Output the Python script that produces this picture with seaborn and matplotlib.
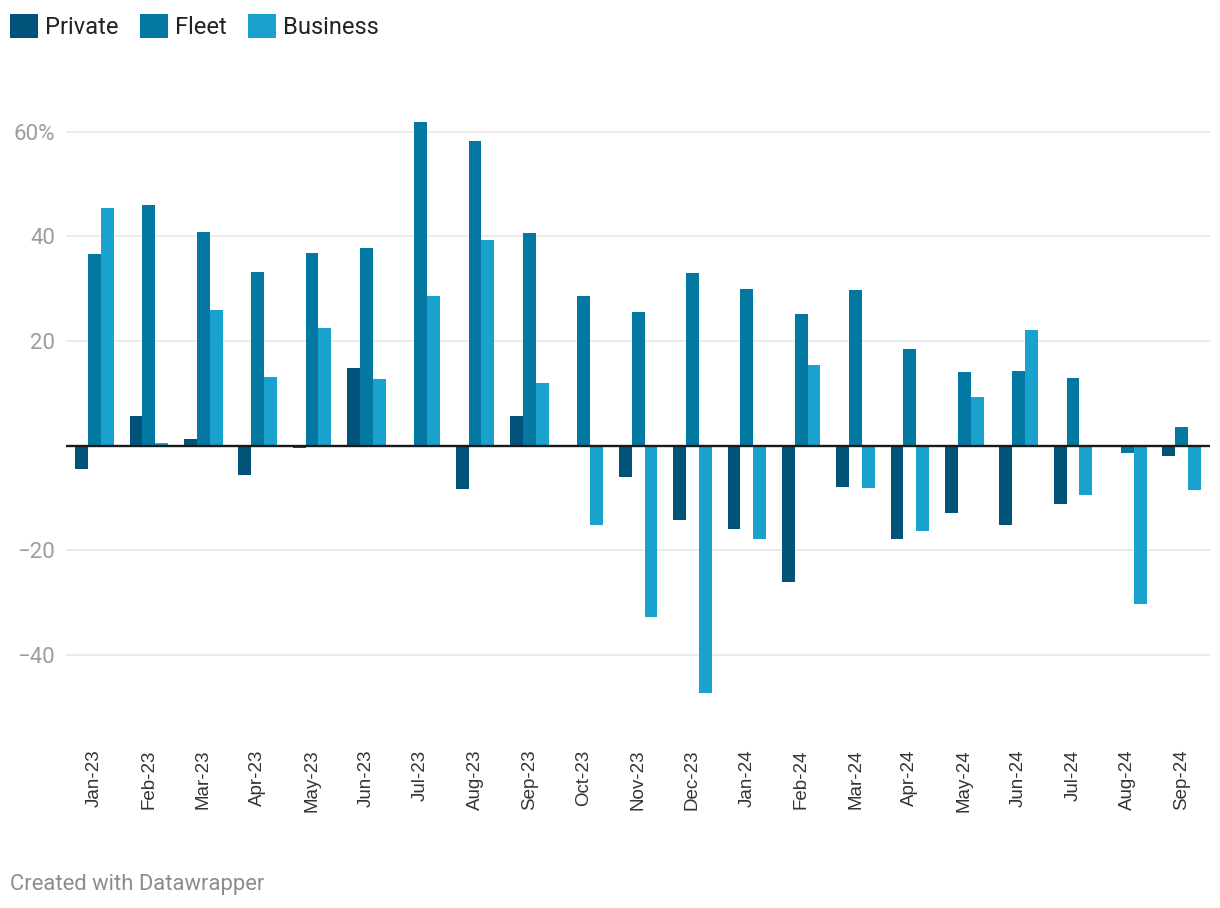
import numpy as np
import pandas as pd
import seaborn as sns
import matplotlib
matplotlib.use("Agg")
from matplotlib import pyplot as plt
from matplotlib.patches import Patch

months = ["Jan-23", "Feb-23", "Mar-23", "Apr-23", "May-23", "Jun-23", "Jul-23",
          "Aug-23", "Sep-23", "Oct-23", "Nov-23", "Dec-23", "Jan-24", "Feb-24",
          "Mar-24", "Apr-24", "May-24", "Jun-24", "Jul-24", "Aug-24", "Sep-24"]

private = [-4.5, 5.7, 1.3, -5.6, -0.5, 14.8, 0.0, -8.2, 5.7, 0.0, -5.9,
           -14.2, -15.9, -26.0, -7.8, -17.8, -12.9, -15.2, -11.1, 0.0, -1.9]
fleet = [36.7, 46.0, 40.9, 33.1, 36.9, 37.8, 61.8, 58.2, 40.7, 28.7, 25.6,
         33.0, 29.9, 25.1, 29.7, 18.4, 14.0, 14.2, 13.0, -1.4, 3.6]
business = [45.5, 0.5, 26.0, 13.1, 22.4, 12.7, 28.7, 39.4, 11.9, -15.2, -32.8,
            -47.2, -17.8, 15.5, -8.1, -16.3, 9.4, 22.1, -9.4, -30.3, -8.5]

series_names = ["Private", "Fleet", "Business"]
colors = {"Private": "#02537a", "Fleet": "#0378a3", "Business": "#19a2ce"}

y_ticks = [-40, -20, 0, 20, 40, 60]
y_labels = ["\u221240", "\u221220", "", "20", "40", "60%"]

df = pd.DataFrame({
    "month": months * 3,
    "series": [s for s in series_names for _ in months],
    "value": private + fleet + business,
})

plt.rcParams["font.family"] = ["Roboto", "DejaVu Sans"]

W, H = 1220, 908
fig = plt.figure(figsize=(W / 100, H / 100), dpi=100)
ax = fig.add_axes([66 / W, 0.2325, (1210 - 66) / W, 0.657])

sns.barplot(data=df, x="month", y="value", hue="series", order=months,
            hue_order=series_names, palette=colors, saturation=1, width=0.71,
            gap=0, legend=False, errorbar=None, linewidth=0, ax=ax)

ax.set_xlim(-0.524, 20.52)
ax.set_ylim(-48, 66)
ax.set_yticks(y_ticks)
ax.set_yticklabels(y_labels)
ax.set_xlabel("")
ax.set_ylabel("")

ax.tick_params(axis="y", length=0, pad=8, labelsize=16, labelcolor="#9d9d9d")
ax.tick_params(axis="x", length=0, pad=38, labelsize=13.5, labelcolor="#333333",
               labelrotation=90)
for lbl in ax.get_xticklabels():
    lbl.set_fontfamily(["Liberation Sans", "DejaVu Sans"])

ax.yaxis.grid(True, color="#e6e6e6", lw=1.1)
ax.set_axisbelow(True)
ax.axhline(0, color="#1a1a1a", lw=1.7, zorder=5)
for sp in ax.spines.values():
    sp.set_visible(False)

# legend at the top left
handles = [Patch(facecolor=colors[s], label=s) for s in series_names]
leg = fig.legend(handles=handles, loc="upper left",
                 bbox_to_anchor=(10 / W, 1 - 14 / H), ncol=3, frameon=False,
                 fontsize=17, handlelength=1.18, handleheight=1.18,
                 handletextpad=0.3, columnspacing=0.9, borderpad=0,
                 borderaxespad=0)
for t in leg.get_texts():
    t.set_color("#222222")

fig.text(10 / W, 1 - 890 / H, "Created with Datawrapper", fontsize=15.8,
         color="#8c8c8c", ha="left", va="baseline")

fig.savefig("out.png", dpi=100)
